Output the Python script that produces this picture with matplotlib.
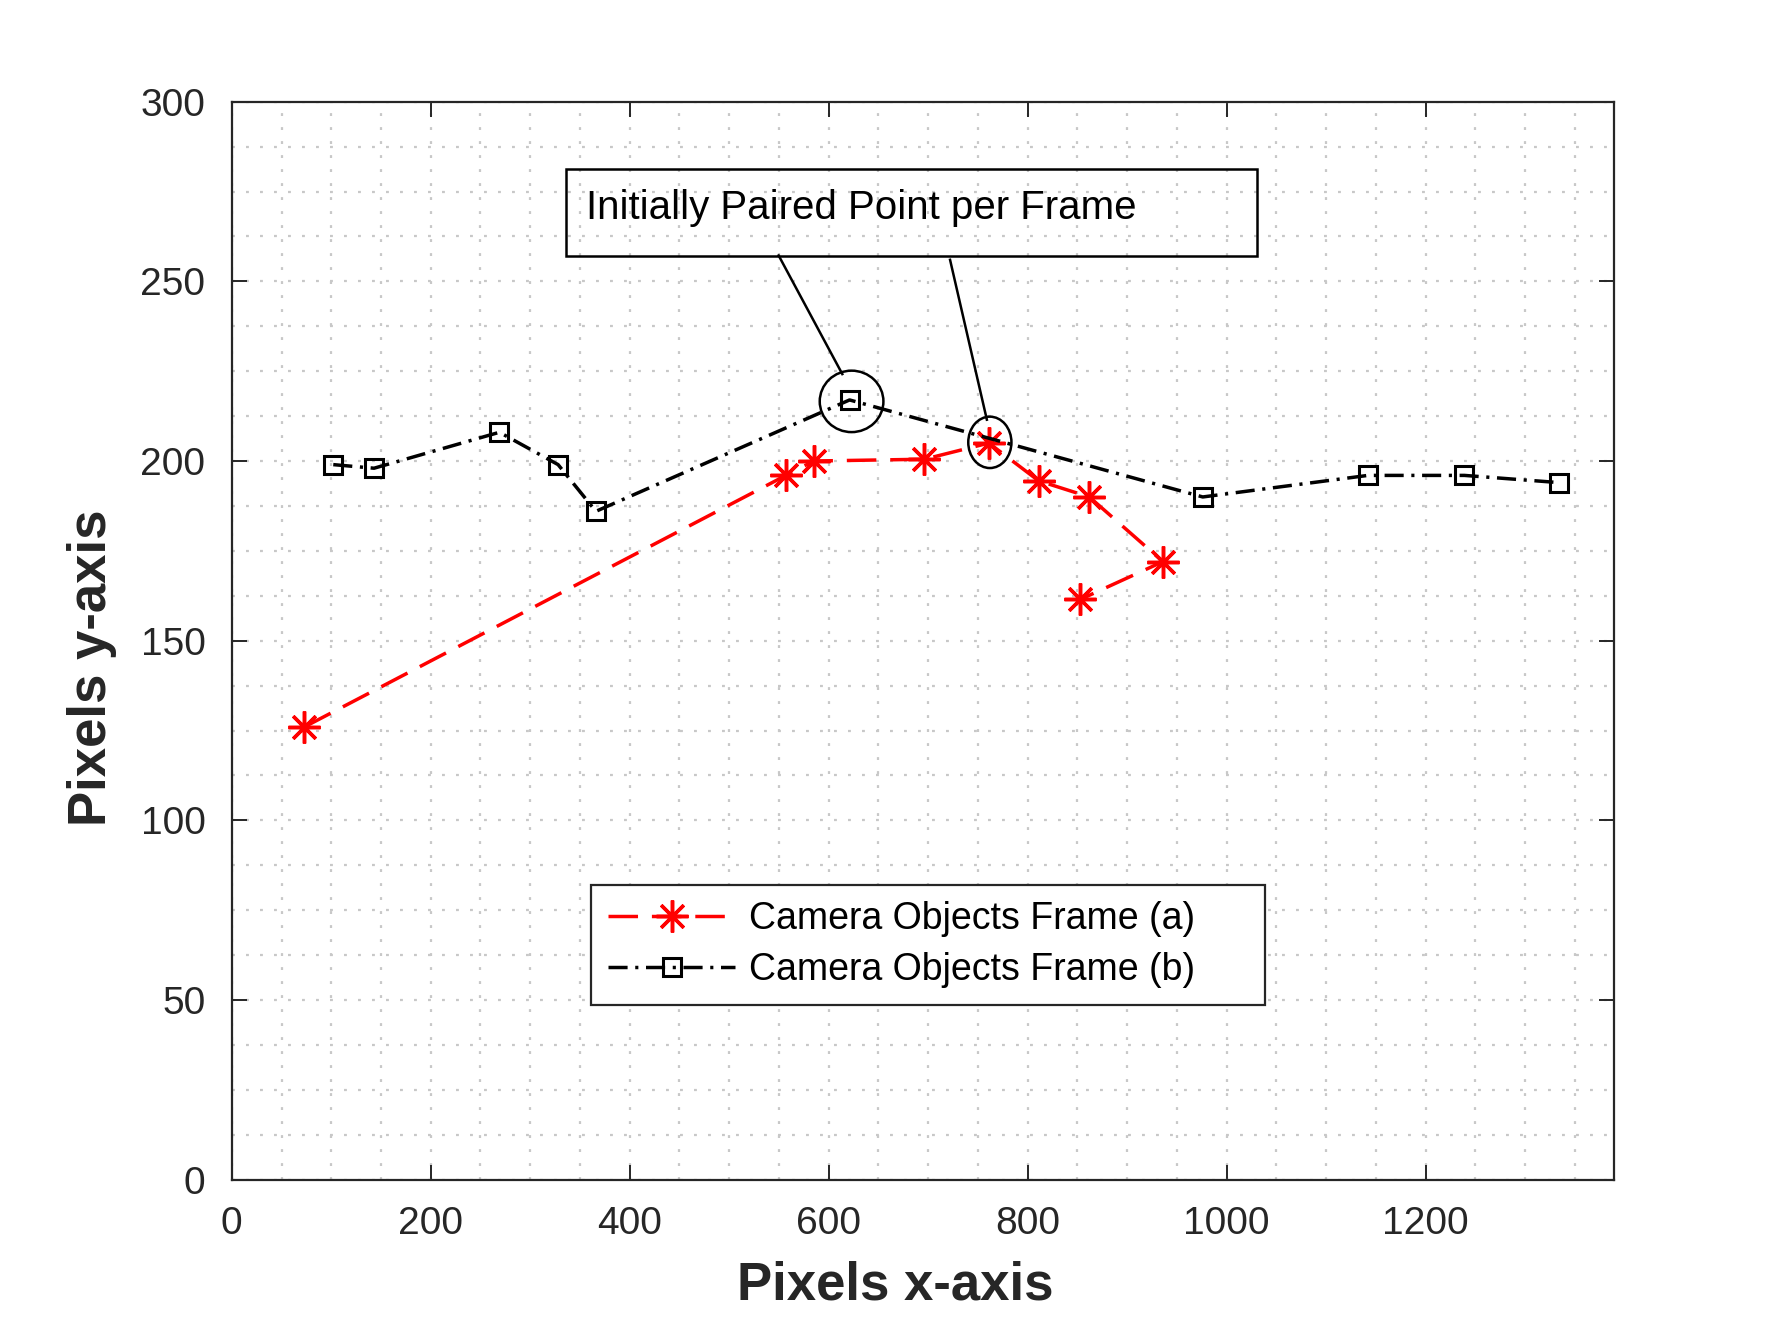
import matplotlib
matplotlib.use("Agg")
import matplotlib.pyplot as plt
from matplotlib.patches import Ellipse, Rectangle
from matplotlib.ticker import MultipleLocator

# Frame (a) - red asterisks
xa = [73, 557, 585, 696, 761, 811, 862, 936, 853]
ya = [126, 196, 200, 200.5, 205, 194.5, 190, 172, 161.5]

# Frame (b) - black squares
xb = [102, 143, 269, 328, 366, 621, 976, 1142, 1239, 1334]
yb = [199, 198, 208, 199, 186, 217, 190, 196, 196, 194]

labels = ['Camera Objects Frame (a)', 'Camera Objects Frame (b)']
note = 'Initially Paired Point per Frame'

plt.rcParams['font.family'] = ['Liberation Sans', 'DejaVu Sans']
dark = '#262626'

fig = plt.figure(figsize=(17.83, 13.21), dpi=100)
ax = fig.add_axes([0.13, 0.107, 0.775, 0.816])

ax.plot(xa, ya, color='red', lw=2.5, ls=(0, (8.5, 4)), marker=(8, 2, 0),
        ms=23, mew=2.5, label=labels[0], zorder=3)
ax.plot(xb, yb, color='black', lw=2.5, ls=(0, (5.5, 2.2, 0.9, 2.2)),
        marker='s', ms=13, mfc='none', mew=2.2, label=labels[1], zorder=3)

ax.set_xlim(0, 1389)
ax.set_ylim(0, 300)
ax.xaxis.set_major_locator(MultipleLocator(200))
ax.yaxis.set_major_locator(MultipleLocator(50))
ax.xaxis.set_minor_locator(MultipleLocator(50))
ax.yaxis.set_minor_locator(MultipleLocator(12.5))

ax.grid(True, which='both', color='#c8c8c8', lw=1.6, ls=(0, (1.3, 5)))
ax.set_axisbelow(True)
ax.tick_params(which='major', direction='in', length=11, width=1.4,
               top=True, right=True, labelsize=28, colors=dark, pad=19)
ax.tick_params(which='minor', length=0)
for s in ax.spines.values():
    s.set_color(dark)
    s.set_linewidth(1.6)

ax.set_xlabel('Pixels x-axis', fontsize=38, fontweight='bold', color=dark,
              va='center')
ax.set_ylabel('Pixels y-axis', fontsize=38, fontweight='bold', color=dark,
              va='center')
ax.xaxis.set_label_coords(0.48, -0.098)
ax.yaxis.set_label_coords(-0.101, 0.475)

# annotation box with pointers to the paired points
ax.add_patch(Rectangle((336, 257.2), 695, 24.1, fill=False, ec='black',
                       lw=1.8, zorder=4))
ax.text(356, 270.3, note, fontsize=29, va='center', ha='left', zorder=4)
ax.plot([549.7, 613.7], [257.2, 224.2], color='black', lw=1.8, zorder=4)
ax.plot([722, 759], [256, 211.5], color='black', lw=1.8, zorder=4)
ax.add_patch(Ellipse((623, 216.6), 64, 17.1, fill=False, ec='black', lw=1.8,
                     zorder=4))
ax.add_patch(Ellipse((762, 205.2), 43.4, 14.3, fill=False, ec='black', lw=1.8,
                     zorder=4))

leg = ax.legend(loc='center', bbox_to_anchor=(0.260, 0.2178, 0.488, 0),
                mode='expand', borderaxespad=0, fontsize=27,
                numpoints=1, handlelength=3.4, handletextpad=0.35,
                labelspacing=0.4, borderpad=0.45, fancybox=False,
                framealpha=1, edgecolor=dark)
leg.get_frame().set_linewidth(1.6)

fig.savefig('out.png', dpi=100)
